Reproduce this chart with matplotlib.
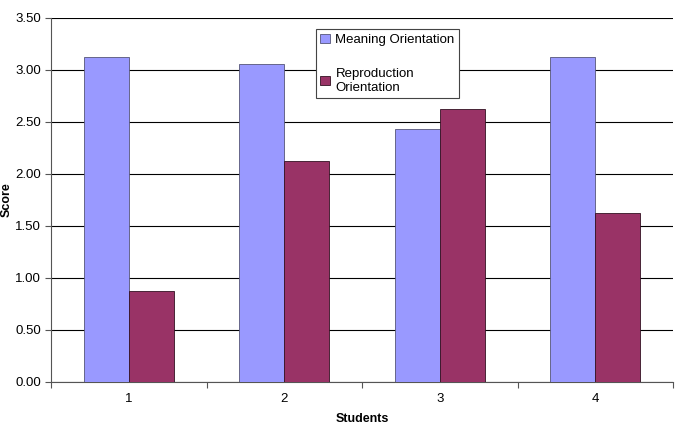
import matplotlib
matplotlib.use('Agg')
import matplotlib.pyplot as plt
import numpy as np

plt.rcParams['font.family'] = ['Liberation Sans', 'DejaVu Sans']

# data
students = ['1', '2', '3', '4']
meaning = [3.125, 3.0625, 2.4375, 3.125]
reproduction = [0.875, 2.125, 2.625, 1.625]

fig = plt.figure(figsize=(6.8, 4.3), dpi=100)
ax = fig.add_axes([51 / 680, 48 / 430, 622 / 680, 364 / 430])

x = np.arange(1, len(students) + 1)
w = 0.29
ax.bar(x - w / 2, meaning, w, color='#9999FF', edgecolor='#555577', linewidth=0.6,
       label='Meaning Orientation', zorder=3)
ax.bar(x + w / 2, reproduction, w, color='#993366', edgecolor='#331122', linewidth=0.6,
       label='Reproduction\nOrientation', zorder=3)

ax.set_xlim(0.5, 4.5)
ax.set_ylim(0, 3.5)
ax.set_yticks(np.arange(0, 3.51, 0.5))
ax.set_yticklabels(['%.2f' % v for v in np.arange(0, 3.51, 0.5)], fontsize=9.5)
ax.yaxis.grid(True, color='black', linewidth=0.8, zorder=0)

# category ticks sit between groups, labels centred
ax.set_xticks(np.arange(0.5, 4.6, 1.0))
ax.set_xticklabels([])
ax.set_xticks(x, minor=True)
ax.set_xticklabels(students, minor=True, fontsize=9.5)
ax.tick_params(axis='x', which='minor', length=0, pad=8)
ax.tick_params(axis='x', which='major', length=4, color='#555555')
ax.tick_params(axis='y', length=4, color='#555555', pad=3)

for s in ['top', 'right']:
    ax.spines[s].set_visible(False)
for s in ['left', 'bottom']:
    ax.spines[s].set_color('#555555')

ax.set_xlabel('Students', fontsize=9, fontweight='bold', labelpad=6)
ax.set_ylabel('Score', fontsize=9, fontweight='bold', labelpad=2)

leg = ax.legend(loc='upper left', bbox_to_anchor=(0.4255, 0.97), fontsize=9.5,
                frameon=True, fancybox=False, edgecolor='#444444', framealpha=1,
                handlelength=0.75, handleheight=0.75, handletextpad=0.4,
                labelspacing=1.65, borderpad=0.35, borderaxespad=0)
leg.get_frame().set_linewidth(0.8)

fig.savefig('out.png', dpi=100)
